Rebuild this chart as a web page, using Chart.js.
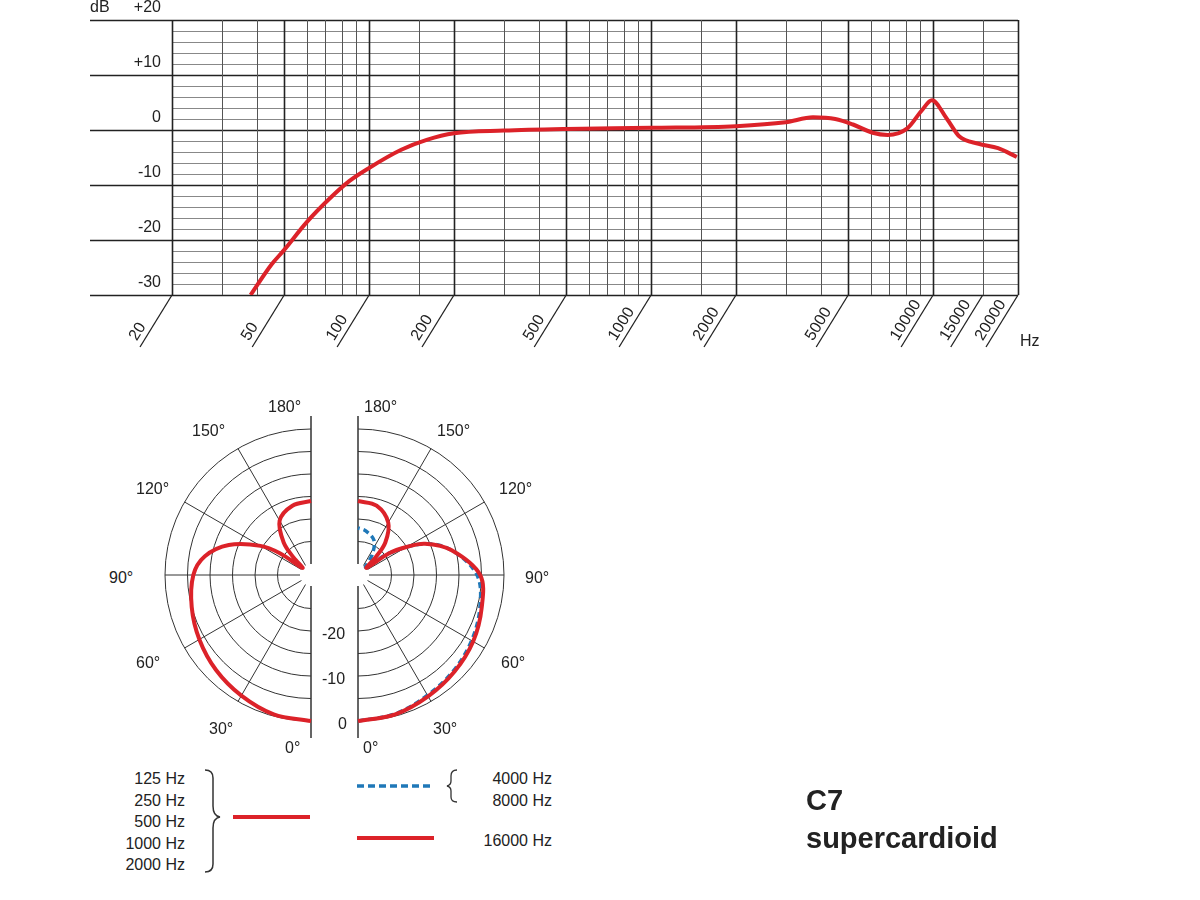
<!DOCTYPE html>
<html><head><meta charset="utf-8">
<script src="https://cdn.jsdelivr.net/npm/chart.js@4"></script>
<style>
body{margin:0;background:#fff;width:1200px;height:900px;position:relative;overflow:hidden;font-family:"Liberation Sans",Arial,sans-serif;color:#222}
canvas{position:absolute}
.t{position:absolute;font-size:16px;white-space:nowrap;line-height:1}
.b{position:absolute;font-size:29px;font-weight:bold;line-height:1;color:#222}
</style></head><body>
<canvas id="fr" style="left:0;top:0" width="1200" height="370"></canvas>
<canvas id="pl" style="top:400px;left:150px" width="180" height="350"></canvas>
<canvas id="pr" style="top:400px;left:340px" width="200" height="350"></canvas>

<div class="t" style="left:268px;top:399px">180°</div>
<div class="t" style="left:364px;top:399px">180°</div>
<div class="t" style="left:192px;top:423px">150°</div>
<div class="t" style="left:437px;top:423px">150°</div>
<div class="t" style="left:136px;top:481px">120°</div>
<div class="t" style="left:499px;top:481px">120°</div>
<div class="t" style="left:109px;top:570px">90°</div>
<div class="t" style="left:525px;top:570px">90°</div>
<div class="t" style="left:136px;top:655px">60°</div>
<div class="t" style="left:501px;top:655px">60°</div>
<div class="t" style="left:209px;top:721px">30°</div>
<div class="t" style="left:433px;top:721px">30°</div>
<div class="t" style="left:285px;top:740px">0°</div>
<div class="t" style="left:363px;top:740px">0°</div>
<div class="t" style="left:322px;top:626px">-20</div>
<div class="t" style="left:322px;top:671px">-10</div>
<div class="t" style="left:338px;top:716px">0</div>

<div class="t" style="left:100px;top:768px;width:85px;text-align:right;line-height:21.5px">125 Hz<br>250 Hz<br>500 Hz<br>1000 Hz<br>2000 Hz</div>
<div class="t" style="left:470px;top:768px;width:82px;text-align:right;line-height:21.5px">4000 Hz<br>8000 Hz</div>
<div class="t" style="left:460px;top:833px;width:92px;text-align:right">16000 Hz</div>
<svg style="position:absolute;left:0;top:0" width="1200" height="900">
 <path d="M205 770 q8 0 8 8 v28 q0 10 7 11 q-7 1 -7 11 v36 q0 8 -8 8" fill="none" stroke="#333" stroke-width="1.5"/>
 <path d="M457 770 q-6 0 -6 6 v5 q0 4 -4 5 q4 1 4 5 v6 q0 5 6 5" fill="none" stroke="#333" stroke-width="1.3"/>
 <line x1="233" y1="817" x2="310" y2="817" stroke="#dc2229" stroke-width="4"/>
 <line x1="357" y1="838" x2="434" y2="838" stroke="#dc2229" stroke-width="4"/>
 <line x1="357" y1="786" x2="434" y2="786" stroke="#1f78b8" stroke-width="3.5" stroke-dasharray="7,4"/>
</svg>
<div class="b" style="left:806px;top:786px">C7</div>
<div class="b" style="left:806px;top:824px">supercardioid</div>

<script>
// ---------- Frequency response data ----------
const freqHz = [38,45,50,60,72,85,100,130,160,200,300,500,1000,2000,3000,3750,4500,5200,6100,6900,8100,9100,9900,11200,12400,14500,17000,19800];
const respDb = [-30,-24.5,-21.8,-16.8,-12.6,-9.3,-6.9,-3.6,-1.8,-0.6,-0.1,0.2,0.4,0.7,1.4,2.3,2.0,1.0,-0.5,-0.9,0.3,3.5,5.4,2.0,-1.2,-2.5,-3.3,-4.9];
const xGridHz = [20,30,40,50,60,70,80,90,100,150,200,300,400,500,600,700,800,900,1000,1500,2000,3000,4000,5000,6000,7000,8000,9000,10000,15000,20000];
const xMajorHz = [20,50,100,200,500,1000,2000,5000,10000,20000];
const xLabelHz = [20,50,100,200,500,1000,2000,5000,10000,15000,20000];
const yTickDb = [20,10,0,-10,-20,-30];

// ---------- Polar data (angle deg from front, level dB) ----------
const angLow = [0,15,30,45,60,75,90,100,110,120,125,130,135,140,150,165,180];
const dbLow  = [0,-0.4,-1.5,-2.6,-3.8,-5,-6.3,-8.5,-13,-19.5,-24,-30,-27,-23,-18.5,-16.5,-16];
const ang16k = [0,15,30,45,60,75,90,105,115,120,125,130,135,140,150,165,180];
const db16k  = [0,-0.4,-1.3,-2.1,-2.9,-4,-5.3,-11,-16,-20,-24,-30,-27,-23,-19,-16.5,-16];
const ang4k8k = [0,15,30,45,60,75,90,105,115,125,135,145,155,170,180];
const db4k8k  = [0,-0.5,-1.6,-2.4,-3.3,-4.4,-6,-11,-16,-24,-30,-27,-24,-22.5,-22];
const ringDb = [0,-5,-10,-15,-20,-25];
const spokeDeg = [30,60,90,120,150];

const font16 = '16px "Liberation Sans", Arial, sans-serif';
const gridPlugin = {
  id:'grid',
  beforeDatasetsDraw(c){
    const ctx=c.ctx, x=c.scales.x, y=c.scales.y, a=c.chartArea;
    ctx.save();
    for(let d=20; d>=-30; d-=2){
      const py=Math.round(y.getPixelForValue(d))+0.5, major=d%10===0;
      ctx.beginPath(); ctx.lineWidth=major?1.6:1; ctx.strokeStyle=major?'#222':'#888';
      ctx.moveTo(major?90:a.left,py); ctx.lineTo(a.right,py); ctx.stroke();
    }
    xGridHz.forEach(f=>{
      const px=Math.round(x.getPixelForValue(f))+0.5, major=xMajorHz.includes(f);
      ctx.beginPath(); ctx.lineWidth=major?1.6:1; ctx.strokeStyle=major?'#222':'#555';
      ctx.moveTo(px,a.top); ctx.lineTo(px,a.bottom); ctx.stroke();
    });
    ctx.fillStyle='#222'; ctx.font=font16; ctx.textAlign='right'; ctx.textBaseline='middle';
    yTickDb.forEach(d=>{ctx.fillText(d>0?'+'+d:String(d),161,y.getPixelForValue(d)-12);});
    ctx.textAlign='left'; ctx.fillText('dB',90,8);
    ctx.fillText('Hz',1020,342);
    const ang=Math.atan2(-52,32);
    xLabelHz.forEach(f=>{
      const px=x.getPixelForValue(f);
      ctx.beginPath(); ctx.lineWidth=1.3; ctx.strokeStyle='#222';
      ctx.moveTo(px,a.bottom); ctx.lineTo(px-32,a.bottom+52); ctx.stroke();
      ctx.save(); ctx.translate(px-32,a.bottom+52); ctx.rotate(ang);
      ctx.textAlign='left'; ctx.textBaseline='bottom'; ctx.fillText(String(f),3,-2); ctx.restore();
    });
    ctx.restore();
  }
};
new Chart(document.getElementById('fr'),{
  type:'line',
  data:{datasets:[{data:freqHz.map((f,i)=>({x:f,y:respDb[i]})),borderColor:'#dc2229',borderWidth:4,pointRadius:0,cubicInterpolationMode:'monotone',fill:false}]},
  options:{responsive:false,animation:false,events:[],layout:{padding:{left:172,right:182,top:20,bottom:75}},
    plugins:{legend:{display:false},tooltip:{enabled:false}},
    scales:{x:{type:'logarithmic',min:20,max:20000,display:false},y:{min:-30,max:20,display:false}}},
  plugins:[gridPlugin]
});

const R0=146, K=4.5;
const rad = d=>R0+K*Math.max(d,-30);
function pts(angs,dbs,side){return angs.map((t,i)=>{const r=rad(dbs[i]),th=t*Math.PI/180;return {x:side*r*Math.sin(th),y:-r*Math.cos(th)};});}
function polarGrid(side){
  return {id:'pg'+side, beforeDatasetsDraw(c){
    const ctx=c.ctx,x=c.scales.x,y=c.scales.y;
    const cx=x.getPixelForValue(0), cy=y.getPixelForValue(0), s=x.getPixelForValue(1)-cx;
    ctx.save(); ctx.strokeStyle='#333'; ctx.lineWidth=1;
    ringDb.forEach(d=>{const r=rad(d)*s; ctx.beginPath();
      if(side<0) ctx.arc(cx,cy,r,Math.PI/2,Math.PI*1.5); else ctx.arc(cx,cy,r,-Math.PI/2,Math.PI/2); ctx.stroke();});
    const r0=rad(-30)*s, r1=R0*s;
    spokeDeg.forEach(t=>{const th=t*Math.PI/180, dx=side*Math.sin(th), dy=Math.cos(th);
      ctx.beginPath(); ctx.moveTo(cx+dx*r0,cy+dy*r0); ctx.lineTo(cx+dx*r1,cy+dy*r1); ctx.stroke();});
    ctx.lineWidth=1.5;
    ctx.beginPath(); ctx.moveTo(cx,cy-(R0+13)*s); ctx.lineTo(cx,cy-r0); ctx.moveTo(cx,cy+r0); ctx.lineTo(cx,cy+(R0+17)*s); ctx.stroke();
    ctx.restore();
  }};
}
function polar(id,side,cxOff,w,sets){
  new Chart(document.getElementById(id),{
    type:'scatter',
    data:{datasets:sets.map(s=>({data:s.d,showLine:true,borderColor:s.c,borderWidth:s.w,borderDash:s.dash||[],pointRadius:0,tension:0.35,fill:false}))},
    options:{responsive:false,animation:false,events:[],layout:{padding:0},
      plugins:{legend:{display:false},tooltip:{enabled:false}},
      scales:{x:{type:'linear',min:-cxOff,max:w-cxOff,display:false},y:{type:'linear',min:-175,max:175,display:false}}},
    plugins:[polarGrid(side)]
  });
}
polar('pl',-1,161,180,[{d:pts(angLow,dbLow,-1),c:'#dc2229',w:4}]);
polar('pr',1,18,200,[{d:pts(ang16k,db16k,1),c:'#dc2229',w:4},{d:pts(ang4k8k,db4k8k,1),c:'#1f78b8',w:3.5,dash:[6,4]}]);
</script>
</body></html>
